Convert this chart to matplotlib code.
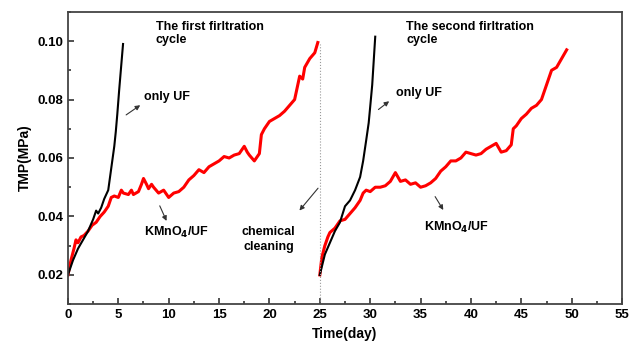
import numpy as np
import matplotlib.pyplot as plt
from matplotlib.ticker import MultipleLocator

plt.rcParams['font.family'] = ['Liberation Sans', 'DejaVu Sans']
plt.rcParams['font.weight'] = 'bold'

# ---- data ----
# first cycle, KMnO4/UF
day_k1 = [0, 0.3, 0.6, 0.8, 1.0, 1.3, 1.6, 2.0, 2.4, 2.8, 3.2, 3.6, 4.0, 4.3, 4.6,
          5.0, 5.3, 5.5, 6.0, 6.3, 6.5, 7.0, 7.3, 7.5, 7.8, 8.0, 8.3, 8.5, 9.0, 9.5,
          10.0, 10.5, 11.0, 11.5, 12.0, 12.5, 13.0, 13.5, 14.0, 14.5, 15.0, 15.5,
          16.0, 16.5, 17.0, 17.5, 17.8, 18.0, 18.5, 19.0, 19.2, 19.5, 20.0, 20.5,
          21.0, 21.5, 22.0, 22.5, 23.0, 23.3, 23.5, 24.0, 24.5, 24.8]
tmp_k1 = [0.020, 0.025, 0.029, 0.032, 0.031, 0.033, 0.0335, 0.035, 0.037, 0.038,
          0.040, 0.0415, 0.0435, 0.0465, 0.047, 0.0465, 0.049, 0.048, 0.0475, 0.049,
          0.0475, 0.0485, 0.051, 0.053, 0.051, 0.0495, 0.051, 0.050, 0.048, 0.049,
          0.0465, 0.048, 0.0485, 0.050, 0.0525, 0.054, 0.056, 0.055, 0.057, 0.058,
          0.059, 0.0605, 0.060, 0.061, 0.0615, 0.064, 0.062, 0.061, 0.059, 0.0615,
          0.068, 0.070, 0.0725, 0.0735, 0.0745, 0.076, 0.078, 0.080, 0.088, 0.087,
          0.091, 0.094, 0.096, 0.0995]

# first cycle, only UF
day_u1 = [0, 0.5, 1.0, 1.5, 2.0, 2.5, 2.8, 3.0, 3.3, 3.6, 4.0, 4.2, 4.4, 4.6,
          4.75, 4.9, 5.08, 5.25, 5.47]
tmp_u1 = [0.020, 0.025, 0.029, 0.032, 0.035, 0.039, 0.042, 0.041, 0.043, 0.046,
          0.049, 0.054, 0.059, 0.064, 0.069, 0.075, 0.083, 0.090, 0.099]

# second cycle, KMnO4/UF
day_k2 = [25.0, 25.2, 25.5, 25.8, 26.0, 26.5, 27.0, 27.5, 28.0, 28.5, 29.0, 29.3,
          29.6, 30.0, 30.5, 31.0, 31.5, 32.0, 32.5, 33.0, 33.5, 34.0, 34.5, 35.0,
          35.5, 36.0, 36.5, 37.0, 37.5, 38.0, 38.5, 39.0, 39.5, 40.0, 40.5, 41.0,
          41.5, 42.0, 42.5, 43.0, 43.5, 44.0, 44.2, 44.5, 45.0, 45.5, 46.0, 46.5,
          47.0, 47.5, 48.0, 48.5, 49.0, 49.5]
tmp_k2 = [0.020, 0.026, 0.030, 0.033, 0.0345, 0.036, 0.0385, 0.039, 0.041,
          0.043, 0.0455, 0.048, 0.049, 0.0485, 0.050, 0.050, 0.0505, 0.052, 0.055,
          0.052, 0.0525, 0.051, 0.0515, 0.050, 0.0505, 0.0515, 0.053, 0.0555, 0.057,
          0.059, 0.059, 0.060, 0.062, 0.0615, 0.061, 0.0615, 0.063, 0.064, 0.065,
          0.062, 0.0625, 0.0645, 0.070, 0.071, 0.0735, 0.075, 0.077, 0.078, 0.080,
          0.085, 0.090, 0.091, 0.094, 0.097]

# second cycle, only UF
day_u2 = [25.0, 25.5, 26.0, 26.5, 27.0, 27.5, 28.0, 28.5, 29.0, 29.3, 29.6,
          29.85, 30.0, 30.2, 30.5]
tmp_u2 = [0.020, 0.027, 0.031, 0.035, 0.038, 0.0435, 0.0455, 0.049, 0.0535,
          0.059, 0.066, 0.072, 0.0775, 0.085, 0.1015]

fig = plt.figure(figsize=(6.29, 3.48), dpi=100)
ax = fig.add_axes([0.108, 0.126, 0.881, 0.840])

ax.plot(day_k1, tmp_k1, color='#ff0000', lw=2.2)
ax.plot(day_u1, tmp_u1, color='black', lw=1.5)
ax.plot(day_k2, tmp_k2, color='#ff0000', lw=2.2)
ax.plot(day_u2, tmp_u2, color='black', lw=1.5)

# chemical cleaning marker
ax.plot([25, 25], [0.01, 0.099], color='#999999', lw=0.8, ls=':')

ax.set_xlim(0, 55)
ax.set_ylim(0.01, 0.11)
ax.xaxis.set_major_locator(MultipleLocator(5))
ax.xaxis.set_minor_locator(MultipleLocator(2.5))
ax.yaxis.set_minor_locator(MultipleLocator(0.01))
ax.set_yticks([0.02, 0.04, 0.06, 0.08, 0.10])
ax.set_yticklabels(['0.02', '0.04', '0.06', '0.08', '0.10'])
ax.tick_params(which='both', direction='in', labelsize=9.5, width=1.2, colors='#333333',
               labelcolor='black')
ax.tick_params(which='major', length=4)
ax.tick_params(which='minor', length=2.5)
for s in ax.spines.values():
    s.set_linewidth(1.3)
    s.set_color('#444444')

ax.set_xlabel('Time(day)', fontsize=10, fontweight='bold')
ax.set_ylabel('TMP(MPa)', fontsize=10, fontweight='bold')

fs = 9
ax.text(8.7, 0.1068, 'The first firltration\ncycle', fontsize=fs, va='top',
        linespacing=1.1)
ax.text(33.6, 0.1068, 'The second firltration\ncycle', fontsize=fs, va='top',
        linespacing=1.1)

arrow = dict(arrowstyle='-|>', color='#333333', lw=0.8, mutation_scale=7)
ax.annotate('', xy=(7.4, 0.0786), xytext=(5.55, 0.0742), arrowprops=arrow)
ax.text(7.55, 0.0807, 'only UF', fontsize=fs, va='center')
ax.annotate('', xy=(32.1, 0.080), xytext=(30.6, 0.076), arrowprops=arrow)
ax.text(32.6, 0.0821, 'only UF', fontsize=fs, va='center')

ax.annotate('', xy=(9.9, 0.0376), xytext=(9.0, 0.0445), arrowprops=arrow)
ax.text(10.8, 0.0346, r'KMnO$_\mathbf{4}$/UF', fontsize=fs, ha='center', va='center')
ax.annotate('', xy=(37.4, 0.0414), xytext=(36.3, 0.0476), arrowprops=arrow)
ax.text(38.6, 0.0362, r'KMnO$_\mathbf{4}$/UF', fontsize=fs, ha='center', va='center')

ax.annotate('', xy=(22.8, 0.0413), xytext=(25.0, 0.0504), arrowprops=arrow)
ax.text(19.9, 0.0322, 'chemical\ncleaning', fontsize=fs, ha='center', va='center',
        linespacing=1.3)

fig.savefig('out.png', dpi=100)
